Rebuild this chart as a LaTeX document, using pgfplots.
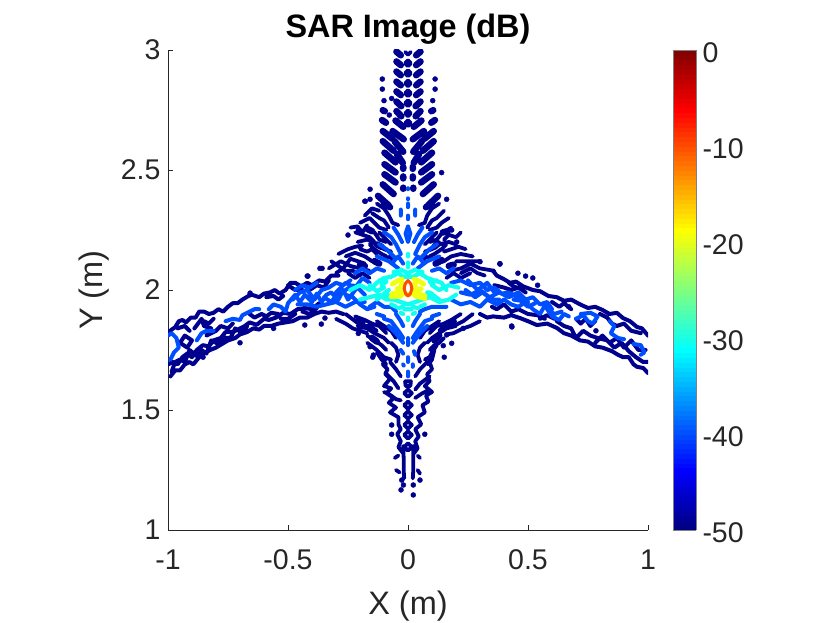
\documentclass[border=0pt]{standalone}
\usepackage{fontspec}
\setmainfont{Liberation Sans}
\usepackage{pgfplots}
\pgfplotsset{compat=1.18}
\definecolor{axisgray}{gray}{0.15}
\definecolor{lvlA}{rgb}{0,0,0.56}
\definecolor{lvlB}{rgb}{0,0.31,1}
\definecolor{lvlC}{rgb}{0.06,1,0.94}
\definecolor{lvlD}{rgb}{0.94,1,0.06}
\definecolor{lvlE}{rgb}{1,0.3,0}
\begin{document}
\begin{tikzpicture}
\useasboundingbox (0,0) rectangle (830pt,623pt);
\begin{axis}[
  at={(168pt,93pt)}, anchor=south west,
  width=480pt, height=480pt, scale only axis,
  xmin=-1, xmax=1, ymin=1, ymax=3,
  axis lines=left, axis line style={-, draw=axisgray, line width=0.9pt},
  tick style={draw=axisgray, line width=0.9pt}, tick align=inside, major tick length=5pt,
  xtick={-1,-0.5,0,0.5,1}, xticklabels={-1,-0.5,0,0.5,1},
  ytick={1,1.5,2,2.5,3}, yticklabels={1,1.5,2,2.5,3},
  tick label style={font=\fontsize{28.5}{28.5}\selectfont, text=axisgray},
  xticklabel style={yshift=-16pt},
  yticklabel style={xshift=-4pt},
  xlabel={X (m)}, ylabel={Y (m)},
  label style={font=\fontsize{32.5}{32.5}\selectfont, text=axisgray},
  xlabel style={at={(axis description cs:0.5,-0.158)}, anchor=center},
  ylabel style={at={(axis description cs:-0.154,0.5)}, anchor=center},
  title={\textbf{SAR Image (dB)}},
  title style={font=\fontsize{32.4}{32.4}\selectfont, at={(axis description cs:0.5,1.03)}, anchor=center},
  unbounded coords=jump, clip=true,
  colormap/jet, point meta min=-50, point meta max=0,
  colorbar sampled,
  colorbar style={
    samples=101,
    at={(1.052,0)}, anchor=south west,
    width=23pt, height=480pt, scale only axis,
    xmin=0, xmax=1, enlargelimits=false,
    ytick={-50,-40,-30,-20,-10,0}, yticklabels={-50,-40,-30,-20,-10,0},
    yticklabel style={font=\fontsize{28.5}{28.5}\selectfont, text=axisgray, xshift=3pt, yshift=-3pt},
    axis line style={draw=gray, line width=0.9pt}, major tick length=0pt,
  },
  every axis plot/.append style={line cap=round, line join=round},
]
% -50 dB level: wings
\addplot[lvlA, line width=4pt] coordinates {
(-1,1.82)(-.985,1.835)(-.97,1.845)(-.955,1.87)(-.94,1.875)(-.925,1.865)(-.905,1.885)(-.885,1.885)(-.87,1.91)(-.85,1.91)(-.83,1.9)(-.81,1.905)(-.79,1.92)(-.77,1.91)(-.75,1.93)(-.73,1.945)(-.71,1.945)(-.69,1.96)(-.665,1.975)(-.65,1.98)(-.62,1.97)(-.6,1.985)(-.575,1.99)(-.555,2.0)(-.535,1.985)(-.51,2.0)(-.49,2.03)(-.47,2.03)(-.445,2.015)(-.42,2.03)(-.4,2.02)(-.37,2.04)(-.345,2.035)(-.32,2.06)(-.29,2.06)(nan,nan)
(-.99,1.64)(-.97,1.665)(-.95,1.665)(-.93,1.69)(-.91,1.70)(-.895,1.69)(-.87,1.72)(-.85,1.735)(-.825,1.75)(-.80,1.76)(-.775,1.775)(-.75,1.79)(-.72,1.80)(-.70,1.815)(-.67,1.825)(-.645,1.84)(-.62,1.835)(-.60,1.85)(-.57,1.85)(-.54,1.86)(-.51,1.865)(-.48,1.87)(-.45,1.885)(-.42,1.885)(-.39,1.90)(-.36,1.91)(-.33,1.905)(-.30,1.91)(-.27,1.90)(nan,nan)
(-1,1.69)(-.98,1.70)(-.96,1.69)(-.94,1.72)(-.92,1.735)(-.90,1.72)(-.88,1.75)(-.855,1.77)(-.83,1.765)(-.81,1.79)(-.78,1.80)(-.76,1.825)(-.73,1.825)(-.70,1.84)(-.68,1.85)(-.66,1.865)(-.63,1.855)(-.60,1.88)(-.58,1.875)(-.55,1.885)(-.52,1.905)(-.49,1.90)(-.46,1.92)(-.43,1.925)(-.40,1.92)(-.37,1.945)(nan,nan)
(-.985,1.66)(-.97,1.70)(-.95,1.71)(-.93,1.70)(-.91,1.75)(-.88,1.725)(-.86,1.75)(-.84,1.735)(-.82,1.79)(-.79,1.775)(-.77,1.80)(-.74,1.80)(-.72,1.84)(-.69,1.82)(-.67,1.85)(nan,nan)
(-.89,1.84)(-.86,1.88)(-.85,1.85)(-.82,1.84)(-.84,1.81)(-.80,1.83)(-.78,1.85)(-.75,1.84)(-.73,1.86)(nan,nan)
(-.95,1.78)(-.93,1.81)(-.90,1.79)(-.92,1.76)(-.95,1.78)(nan,nan)
(-.66,1.90)(-.64,1.885)(-.61,1.90)(-.59,1.89)(-.57,1.905)(-.54,1.90)(nan,nan)
(-.59,1.97)(-.56,1.975)(-.54,1.96)(-.52,1.975)(nan,nan)
(-.96,1.84)(-.93,1.85)(-.91,1.83)(nan,nan)(-.85,1.87)(-.83,1.86)(-.81,1.88)(nan,nan)
(-.50,2.02)(-.47,2.0)(-.44,2.0)(nan,nan)(-.41,2.0)(-.38,2.02)(-.35,2.01)(-.33,2.04)(nan,nan)
(-.53,1.88)(-.50,1.88)(-.47,1.90)(nan,nan)(-.44,1.91)(-.41,1.90)(-.38,1.925)(nan,nan)
(.354,2.08)(.37,2.06)(.40,2.045)(.425,2.03)(.45,2.035)(.48,2.015)(.52,2.0)(.55,1.995)(.585,1.975)(.62,1.97)(.65,1.955)(.68,1.96)(.717,1.94)(.75,1.925)(.78,1.93)(.81,1.917)(.84,1.90)(.87,1.905)(.896,1.883)(.925,1.87)(.954,1.846)(.975,1.84)(1,1.81)(nan,nan)
(.30,1.90)(.33,1.885)(.354,1.89)(.40,1.885)(.43,1.895)(.467,1.883)(.50,1.87)(.537,1.854)(.58,1.86)(.62,1.842)(.65,1.82)(.68,1.81)(.717,1.79)(.75,1.785)(.78,1.765)(.81,1.76)(.85,1.745)(.875,1.73)(.896,1.72)(.92,1.72)(.94,1.69)(.954,1.68)(.98,1.675)(1,1.654)(nan,nan)
(.62,1.87)(.65,1.85)(.68,1.84)(.70,1.80)(.73,1.83)(.76,1.81)(.79,1.80)(.83,1.79)(.86,1.76)(.89,1.78)(.92,1.745)(.95,1.72)(.98,1.70)(1,1.70)(nan,nan)
(.80,1.90)(.83,1.885)(.85,1.86)(.87,1.85)(.90,1.86)(.93,1.83)(.97,1.82)(nan,nan)
(.35,1.93)(.37,1.92)(.40,1.94)(.43,1.91)(.46,1.92)(.50,1.90)(.54,1.895)(.57,1.88)(nan,nan)
(.70,1.88)(.72,1.86)(.74,1.88)(.76,1.85)(.78,1.87)(nan,nan)
(.36,2.02)(.40,2.01)(.43,2.0)(.46,2.01)(.49,1.99)(nan,nan)
(.60,1.95)(.63,1.93)(.65,1.945)(.68,1.92)(nan,nan)
(.78,1.78)(.81,1.81)(.84,1.78)(.87,1.80)(.90,1.76)(.93,1.79)(.96,1.75)(.99,1.75)(nan,nan)
(.55,1.88)(.58,1.895)(.61,1.88)(nan,nan)(.42,2.03)(.44,2.015)(.48,2.0)(nan,nan)
};
% -50 dB level: upper spike streaks
\addplot[lvlA, line width=6.6pt] coordinates {
(-.048,2.993)(-.03,2.978)(nan,nan)(.034,2.978)(.052,2.993)(nan,nan)
(-.048,2.952)(-.03,2.937)(nan,nan)(.034,2.937)(.052,2.952)(nan,nan)
(-.048,2.91)(-.03,2.895)(nan,nan)(.034,2.895)(.052,2.91)(nan,nan)
(-.048,2.868)(-.03,2.853)(nan,nan)(.034,2.853)(.052,2.868)(nan,nan)
(-.048,2.827)(-.03,2.812)(nan,nan)(.034,2.812)(.052,2.827)(nan,nan)
(-.048,2.785)(-.028,2.766)(nan,nan)(.032,2.766)(.052,2.785)(nan,nan)
(-.048,2.745)(-.028,2.724)(nan,nan)(.032,2.724)(.052,2.745)(nan,nan)
(-.052,2.706)(-.02,2.68)(nan,nan)(.024,2.68)(.056,2.706)(nan,nan)
(-.105,2.662)(-.065,2.63)(nan,nan)(.107,2.662)(.068,2.63)(nan,nan)
(-.105,2.62)(-.06,2.58)(nan,nan)(.107,2.62)(.062,2.58)(nan,nan)
(-.098,2.572)(-.052,2.532)(nan,nan)(.1,2.572)(.055,2.532)(nan,nan)
(-.098,2.524)(-.052,2.49)(nan,nan)(.1,2.524)(.055,2.49)(nan,nan)
(-.098,2.482)(-.052,2.448)(nan,nan)(.1,2.482)(.055,2.448)(nan,nan)
(-.105,2.44)(-.06,2.40)(nan,nan)(.107,2.44)(.062,2.40)(nan,nan)
(-.125,2.392)(-.08,2.352)(nan,nan)(.125,2.392)(.083,2.352)(nan,nan)
(-.064,2.662)(-.018,2.628)(nan,nan)(.066,2.662)(.02,2.628)(nan,nan)
(-.056,2.62)(-.02,2.576)(nan,nan)(.058,2.62)(.022,2.576)(nan,nan)
(-.046,2.566)(-.022,2.53)(nan,nan)(.046,2.566)(.024,2.53)(nan,nan)
(-.02,2.513)(-.02,2.505)(nan,nan)(.02,2.513)(.02,2.505)(nan,nan)
(-.02,2.473)(-.02,2.465)(nan,nan)(.02,2.473)(.02,2.465)(nan,nan)
(-.02,2.426)(-.02,2.422)(nan,nan)(.022,2.426)(.022,2.422)(nan,nan)
(-.105,2.749)(-.097,2.745)(nan,nan)(.105,2.749)(.097,2.745)(nan,nan)
(-.108,2.708)(-.092,2.697)(nan,nan)(.097,2.697)(.112,2.708)(nan,nan)
(-.10,2.36)(-.075,2.345)(nan,nan)(.10,2.36)(.075,2.345)(nan,nan)
(-.17,2.255)(-.15,2.245)(nan,nan)(-.13,2.19)(-.11,2.18)(nan,nan)(-.14,2.12)(-.12,2.11)(nan,nan)
(.165,2.245)(.145,2.24)(nan,nan)(.125,2.195)(.11,2.18)(nan,nan)(.14,2.125)(.115,2.11)(nan,nan)
(-.2,2.105)(-.18,2.10)(nan,nan)(.19,2.105)(.17,2.10)(nan,nan)(-.21,1.87)(-.19,1.86)(nan,nan)(.19,1.87)(.17,1.855)(nan,nan)
(-.15,1.80)(-.13,1.785)(nan,nan)(.13,1.81)(.11,1.79)(nan,nan)
};
% -50 dB level: rings on the spikes, contours round the cross and lower spike
\addplot[lvlA, line width=3.8pt] coordinates {
(-.012,2.945)(0,2.957)(.012,2.945)(0,2.933)(-.012,2.945)(nan,nan)
(-.012,2.903)(0,2.915)(.012,2.903)(0,2.891)(-.012,2.903)(nan,nan)
(-.012,2.861)(0,2.873)(.012,2.861)(0,2.849)(-.012,2.861)(nan,nan)
(-.012,2.82)(0,2.832)(.012,2.82)(0,2.808)(-.012,2.82)(nan,nan)
(-.012,2.778)(0,2.79)(.012,2.778)(0,2.766)(-.012,2.778)(nan,nan)
(-.012,2.736)(0,2.748)(.012,2.736)(0,2.724)(-.012,2.736)(nan,nan)
(-.012,2.695)(0,2.707)(.012,2.695)(0,2.683)(-.012,2.695)(nan,nan)
(-.012,2.992)(0,2.98)(.012,2.992)(nan,nan)
(-.13,2.36)(-.10,2.34)(-.08,2.31)(-.065,2.28)(-.04,2.27)(nan,nan)
(-.2,2.28)(-.16,2.30)(-.14,2.28)(-.12,2.26)(-.09,2.25)(nan,nan)
(-.17,2.25)(-.14,2.24)(-.12,2.21)(-.09,2.20)(nan,nan)
(-.21,2.20)(-.17,2.21)(-.13,2.19)(-.10,2.17)(-.07,2.16)(nan,nan)
(-.26,2.14)(-.22,2.155)(-.18,2.14)(-.15,2.12)(-.12,2.11)(nan,nan)
(-.33,2.09)(-.28,2.12)(-.24,2.10)(-.20,2.09)(-.16,2.08)(nan,nan)
(-.2,2.17)(-.17,2.16)(-.15,2.17)(-.13,2.15)(nan,nan)
(-.25,2.07)(-.22,2.05)(-.19,2.07)(-.16,2.05)(nan,nan)
(-.15,2.32)(-.12,2.30)(-.10,2.29)(-.08,2.26)(nan,nan)
(-.22,2.24)(-.19,2.23)(-.16,2.22)(-.14,2.20)(nan,nan)
(-.30,2.07)(-.27,2.09)(-.24,2.13)(-.21,2.12)(-.18,2.11)(nan,nan)
(-.24,2.26)(-.21,2.265)(-.19,2.24)(-.17,2.27)(nan,nan)(-.18,2.31)(-.15,2.34)(-.12,2.33)(nan,nan)
(-.16,2.19)(-.14,2.17)(-.11,2.15)(-.09,2.14)(nan,nan)(-.29,2.15)(-.25,2.17)(-.22,2.18)(-.19,2.185)(nan,nan)
(-.32,2.12)(-.29,2.10)(-.26,2.08)(-.23,2.08)(-.20,2.06)(nan,nan)(-.12,2.24)(-.10,2.22)(-.07,2.19)(nan,nan)(-.10,2.13)(-.07,2.14)(-.06,2.11)(nan,nan)
(.13,2.36)(.10,2.34)(.08,2.31)(.07,2.28)(.045,2.27)(nan,nan)
(.17,2.30)(.14,2.28)(.12,2.26)(.09,2.25)(nan,nan)
(.18,2.26)(.14,2.235)(.12,2.21)(.09,2.20)(nan,nan)
(.20,2.19)(.17,2.20)(.13,2.19)(.10,2.17)(.07,2.16)(nan,nan)
(.27,2.14)(.22,2.15)(.18,2.14)(.15,2.12)(.12,2.11)(nan,nan)
(.36,2.08)(.30,2.09)(.26,2.11)(.22,2.09)(.18,2.08)(nan,nan)
(.26,2.07)(.22,2.05)(.19,2.07)(.16,2.05)(nan,nan)
(.15,2.33)(.12,2.30)(.10,2.29)(.08,2.26)(nan,nan)
(.24,2.17)(.21,2.18)(.18,2.17)(.15,2.16)(nan,nan)
(.30,2.12)(.27,2.12)(.24,2.12)(.20,2.12)(nan,nan)
(.22,2.24)(.20,2.22)(.17,2.23)(.15,2.21)(nan,nan)(.16,2.19)(.14,2.17)(.11,2.15)(.09,2.14)(nan,nan)
(.12,2.24)(.10,2.22)(.07,2.19)(nan,nan)(.10,2.13)(.07,2.14)(.06,2.11)(nan,nan)(.32,2.06)(.29,2.07)(.26,2.09)(.22,2.07)(nan,nan)
(-.22,1.89)(-.18,1.875)(-.15,1.86)(-.12,1.85)(-.09,1.82)(nan,nan)
(-.21,1.85)(-.17,1.84)(-.14,1.82)(-.10,1.80)(-.08,1.78)(nan,nan)
(-.17,1.81)(-.14,1.79)(-.11,1.77)(-.09,1.75)(nan,nan)
(-.17,1.78)(-.13,1.75)(-.10,1.72)(-.07,1.71)(nan,nan)
(-.26,1.90)(-.22,1.87)(-.19,1.85)(-.16,1.85)(-.13,1.83)(nan,nan)
(-.30,1.88)(-.26,1.86)(-.23,1.84)(-.20,1.83)(-.17,1.82)(nan,nan)(-.13,1.87)(-.10,1.85)(-.07,1.83)(-.05,1.80)(nan,nan)
(-.13,1.74)(-.11,1.71)(-.09,1.69)(nan,nan)(-.07,1.78)(-.05,1.76)(-.04,1.73)(-.05,1.70)(nan,nan)
(.22,1.90)(.18,1.875)(.15,1.86)(.12,1.85)(.09,1.82)(nan,nan)
(.20,1.85)(.16,1.84)(.13,1.82)(.10,1.80)(.08,1.78)(nan,nan)
(.15,1.80)(.13,1.78)(.11,1.77)(.09,1.75)(nan,nan)
(.12,1.77)(.10,1.74)(.09,1.72)(.07,1.71)(nan,nan)
(.27,1.90)(.23,1.87)(.19,1.85)(.16,1.86)(.13,1.83)(nan,nan)
(.30,1.87)(.26,1.85)(.23,1.84)(.19,1.82)(.16,1.815)(nan,nan)(.13,1.87)(.10,1.85)(.07,1.83)(.05,1.80)(nan,nan)
(.07,1.78)(.05,1.76)(.04,1.73)(.05,1.70)(nan,nan)(.11,1.75)(.10,1.71)(.085,1.69)(nan,nan)
(-.115,1.73)(-.095,1.71)(-.105,1.69)(-.085,1.67)(-.095,1.65)(-.075,1.63)(-.10,1.60)(-.07,1.59)(-.09,1.57)(-.06,1.55)(-.08,1.53)(-.05,1.51)(-.075,1.49)(-.04,1.47)(-.04,1.44)(-.03,1.42)(-.045,1.40)(-.03,1.37)(-.04,1.345)(-.02,1.32)(nan,nan)
(.105,1.73)(.09,1.70)(.10,1.67)(.08,1.65)(.09,1.62)(.07,1.60)(.10,1.575)(.075,1.56)(.085,1.535)(.06,1.52)(.07,1.49)(.04,1.47)(.055,1.44)(.03,1.42)(.045,1.39)(.03,1.37)(.04,1.34)(.025,1.32)(nan,nan)
(-.10,1.575)(-.07,1.56)(-.05,1.545)(-.03,1.54)(nan,nan)(-.09,1.65)(-.06,1.62)(-.04,1.59)(nan,nan)(-.075,1.70)(-.05,1.67)(-.03,1.64)(nan,nan)
(.08,1.70)(.05,1.67)(.03,1.64)(nan,nan)(.09,1.64)(.05,1.61)(.03,1.585)(nan,nan)(.09,1.585)(.06,1.57)(.03,1.55)(nan,nan)
(-.02,1.35)(-.018,1.30)(-.018,1.25)(-.016,1.215)(nan,nan)(.022,1.35)(.022,1.30)(.022,1.25)(.02,1.215)(nan,nan)
(-.055,1.30)(-.04,1.31)(nan,nan)(.04,1.31)(.05,1.30)(nan,nan)(-.05,1.25)(-.035,1.24)(nan,nan)(.04,1.25)(.05,1.235)(nan,nan)
(-.016,1.57)(0,1.585)(.016,1.57)(0,1.555)(-.016,1.57)(nan,nan)
(-.016,1.52)(0,1.535)(.016,1.52)(0,1.505)(-.016,1.52)(nan,nan)
(-.016,1.479)(0,1.494)(.016,1.479)(0,1.464)(-.016,1.479)(nan,nan)
(-.016,1.4375)(0,1.4525)(.016,1.4375)(0,1.4225)(-.016,1.4375)(nan,nan)
(-.016,1.396)(0,1.411)(.016,1.396)(0,1.381)(-.016,1.396)(nan,nan)
(-.016,1.346)(0,1.361)(.016,1.346)(0,1.331)(-.016,1.346)(nan,nan)
(-.012,1.62)(.012,1.62)(.01,1.60)(-.01,1.60)(-.012,1.62)(nan,nan)
};
% -50 dB level: isolated spots
\addplot[only marks, mark=*, mark size=2.5pt, lvlA] coordinates {
(-.107,2.879)(-.107,2.837)(-.1,2.789)(.113,2.879)(.113,2.837)(.103,2.789)(-.068,2.798)(-.078,2.729)(.14,2.489)(-.158,2.42)(-.178,2.37)(-.158,2.378)(.161,2.378)
(-.658,1.987)(-.417,2.058)(-.358,2.09)(-.70,1.78)(-.854,1.72)(-.43,1.854)(-.346,1.883)(-.56,1.84)(.383,2.108)(.433,1.846)(.458,2.07)(.49,2.058)(.52,2.05)(.54,2.02)(.783,1.83)(.67,1.93)
(-.25,2.229)(-.367,2.09)(-.42,2.058)(.383,2.11)(.3,2.118)(-.361,1.858)(.432,1.85)(.23,1.84)(-.207,1.819)(.147,1.768)(.182,1.778)(.161,1.813)(-.18,2.37)(-.158,1.764)(-.144,1.729)(.182,2.25)(.203,2.2)(-.207,2.25)
(-.068,1.4375)(-.068,1.399)(.07,1.399)(.151,1.72)(-.147,1.72)(-.026,1.208)(-.019,1.1875)(-.029,1.167)(.022,1.146)(.022,1.1875)(.05,1.208)
};
% -40 dB level
\addplot[lvlB, line width=4pt] coordinates {
(-1,1.81)(-.985,1.82)(-.965,1.80)(-.955,1.76)(-.975,1.74)(-.99,1.71)(nan,nan)
(-.88,1.79)(-.86,1.82)(-.84,1.83)(-.81,1.83)(nan,nan)
(-.76,1.87)(-.73,1.88)(-.70,1.875)(-.69,1.895)(-.66,1.91)(-.64,1.92)(-.62,1.92)(nan,nan)
(-.58,1.92)(-.56,1.94)(-.53,1.93)(-.51,1.91)(-.50,1.945)(-.47,1.98)(-.45,1.95)(-.43,1.98)(-.40,1.95)(-.38,1.985)(-.36,1.95)(-.34,1.98)(-.32,1.99)(-.29,1.96)(-.27,2.0)(-.25,1.96)(-.22,2.0)(nan,nan)
(-.48,1.96)(-.45,1.99)(-.42,2.0)(-.39,1.96)(-.36,2.0)(-.33,2.01)(-.30,2.03)(-.27,2.02)(-.24,2.04)(nan,nan)
(-.46,1.94)(-.42,1.94)(-.38,1.93)(-.34,1.94)(-.30,1.95)(-.26,1.93)(-.22,1.95)(-.18,1.95)(nan,nan)
(-.30,1.99)(-.26,2.03)(-.22,2.01)(-.19,2.05)(-.16,2.03)(nan,nan)
(-.26,1.98)(-.23,1.97)(-.20,1.94)(-.17,1.92)(-.14,1.93)(nan,nan)
(-.47,2.0)(-.44,2.02)(-.41,2.01)(-.38,2.03)(nan,nan)(-.35,1.97)(-.32,1.95)(-.29,1.99)(-.26,2.0)(-.23,2.02)(-.20,2.0)(-.18,1.98)(nan,nan)
(-.22,2.07)(-.19,2.09)(-.16,2.07)(-.13,2.09)(-.10,2.08)(nan,nan)(-.16,1.93)(-.13,1.95)(-.10,1.93)(-.07,1.93)(-.05,1.91)(nan,nan)
(.16,2.07)(.13,2.09)(.10,2.08)(nan,nan)(.16,2.07)(.19,2.09)(nan,nan)(.16,1.93)(.13,1.93)(.10,1.93)(.07,1.92)(.05,1.91)(nan,nan)
(-.06,2.12)(-.04,2.14)(-.02,2.11)(nan,nan)(.06,2.12)(.04,2.14)(.02,2.11)(nan,nan)(-.05,1.90)(-.03,1.87)(-.02,1.85)(nan,nan)(.05,1.90)(.03,1.87)(.02,1.85)(nan,nan)
(.24,2.0)(.28,1.97)(.31,1.99)(.35,1.96)(.38,1.96)(nan,nan)(.25,2.04)(.29,2.0)(.33,2.03)(.36,1.99)(nan,nan)(.44,1.96)(.47,1.955)(.50,1.93)(.53,1.945)(nan,nan)(.58,1.92)(.61,1.90)(.64,1.91)(nan,nan)
(.18,2.03)(.22,2.04)(.26,2.02)(.30,2.03)(.33,2.0)(.36,2.01)(.39,1.985)(.42,1.99)(.46,1.97)(.49,1.96)(.52,1.97)(.55,1.94)(.58,1.95)(.60,1.92)(nan,nan)
(.18,1.96)(.22,1.94)(.26,1.95)(.30,1.93)(.33,1.96)(.37,1.94)(.40,1.96)(.43,1.94)(.46,1.93)(.49,1.95)(.52,1.92)(.55,1.90)(.57,1.935)(.60,1.89)(.63,1.875)(.65,1.90)(.67,1.89)(nan,nan)
(.22,1.99)(.26,1.98)(.30,2.0)(.34,1.97)(.38,1.99)(.42,1.97)(.46,1.99)(.50,1.95)(nan,nan)
(.70,1.88)(.73,1.895)(.75,1.87)(.77,1.86)(.79,1.89)(.76,1.905)(.72,1.90)(nan,nan)
(.84,1.87)(.86,1.85)(.845,1.82)(.875,1.80)(.90,1.795)(nan,nan)
(.94,1.775)(.97,1.77)(.985,1.74)(.97,1.73)(nan,nan)
(-.03,2.335)(-.03,2.31)(nan,nan)(.03,2.335)(.03,2.31)(nan,nan)
(0,2.36)(0,2.345)(nan,nan)(0,2.31)(0,2.295)(nan,nan)
(.0,2.265)(-.01,2.235)(0,2.20)(.01,2.235)(0,2.265)(nan,nan)
(-.10,2.24)(-.07,2.22)(-.05,2.19)(-.03,2.15)(nan,nan)(-.12,2.19)(-.09,2.17)(-.05,2.13)(nan,nan)(-.13,2.14)(-.08,2.12)(-.04,2.09)(nan,nan)(-.06,2.26)(-.04,2.23)(-.025,2.20)(nan,nan)
(.10,2.24)(.07,2.22)(.05,2.19)(.03,2.15)(nan,nan)(.12,2.19)(.09,2.17)(.05,2.13)(nan,nan)(.13,2.14)(.08,2.12)(.04,2.09)(nan,nan)(.06,2.26)(.04,2.23)(.025,2.20)(nan,nan)
(-.10,1.88)(-.07,1.87)(-.04,1.83)(-.02,1.80)(nan,nan)(-.08,1.85)(-.05,1.82)(-.02,1.78)(nan,nan)(-.13,1.90)(-.10,1.89)(nan,nan)
(.10,1.88)(.07,1.87)(.04,1.83)(.02,1.80)(nan,nan)(.08,1.85)(.05,1.82)(.02,1.78)(nan,nan)(.13,1.90)(.10,1.89)(nan,nan)
(0,1.80)(0,1.77)(nan,nan)(-.03,1.75)(-.02,1.735)(nan,nan)(.025,1.745)(.03,1.73)(nan,nan)(0,1.72)(0,1.70)(nan,nan)(-.02,1.69)(-.018,1.685)(nan,nan)(.02,1.69)(.02,1.68)(nan,nan)(0,1.66)(0,1.64)(nan,nan)
(0,2.424)(0,2.42)(nan,nan)(0,2.382)(0,2.378)(nan,nan)
};
% -30 dB level
\addplot[lvlC, line width=4.2pt] coordinates {
(-.24,2.0)(-.20,2.02)(-.16,2.0)(-.13,2.03)(-.10,2.05)(-.07,2.055)(-.04,2.07)(-.02,2.055)(.02,2.055)(.05,2.07)(.08,2.05)(.11,2.04)(.14,2.03)(.16,2.0)(nan,nan)
(-.20,1.96)(-.16,1.97)(-.12,1.98)(-.09,1.96)(-.06,1.96)(-.03,1.95)(0,1.94)(.03,1.95)(.06,1.96)(.09,1.97)(.13,1.95)(.17,1.96)(.20,1.98)(nan,nan)
(-.16,2.02)(-.13,1.995)(-.10,2.01)(nan,nan)(.10,2.02)(.13,2.0)(.17,2.02)(.21,2.01)(nan,nan)
(-.11,2.02)(-.09,2.035)(nan,nan)(.09,2.035)(.11,2.015)(nan,nan)(-.10,1.985)(-.08,2.0)(nan,nan)(.08,1.99)(.10,1.985)(nan,nan)
(-.06,2.075)(-.04,2.08)(nan,nan)(.04,2.08)(.06,2.075)(nan,nan)
(-.12,2.04)(-.10,2.03)(nan,nan)(-.13,1.96)(-.09,1.99)(-.08,1.97)(nan,nan)(.08,1.97)(.09,1.99)(.13,1.96)(nan,nan)(.12,2.04)(.10,2.03)(nan,nan)
(-.03,2.085)(0,2.07)(.03,2.085)(nan,nan)(-.07,1.94)(-.05,1.93)(nan,nan)(.05,1.93)(.07,1.94)(nan,nan)(-.015,1.92)(.015,1.92)(nan,nan)
(0,2.15)(0,2.14)(nan,nan)(0,2.115)(0,2.095)(nan,nan)(-.03,1.905)(-.02,1.90)(nan,nan)(.03,1.905)(.02,1.90)(nan,nan)(0,1.885)(0,1.875)(nan,nan)(-.04,1.925)(-.02,1.93)(nan,nan)(.04,1.925)(.02,1.93)(nan,nan)
};
% -20 dB level
\addplot[lvlD, line width=5pt] coordinates {
(-.065,2.025)(-.04,2.04)(-.025,2.045)(nan,nan)(.025,2.045)(.04,2.04)(.065,2.025)(nan,nan)
(-.065,1.985)(-.03,1.99)(0,1.98)(.03,1.99)(.07,1.975)(nan,nan)(-.07,1.972)(-.03,1.975)(nan,nan)(.03,1.975)(.07,1.965)(nan,nan)
(-.025,2.03)(-.03,2.01)(-.045,2.005)(nan,nan)(.03,2.03)(.03,2.0)(.055,2.005)(nan,nan)
};
% -10 dB level
\addplot[lvlE, line width=3pt] coordinates {
(0,2.04)(-.012,2.025)(-.016,2.005)(-.01,1.985)(0,1.975)(.01,1.985)(.016,2.005)(.012,2.025)(0,2.04)
};
\end{axis}
\end{tikzpicture}
\end{document}
